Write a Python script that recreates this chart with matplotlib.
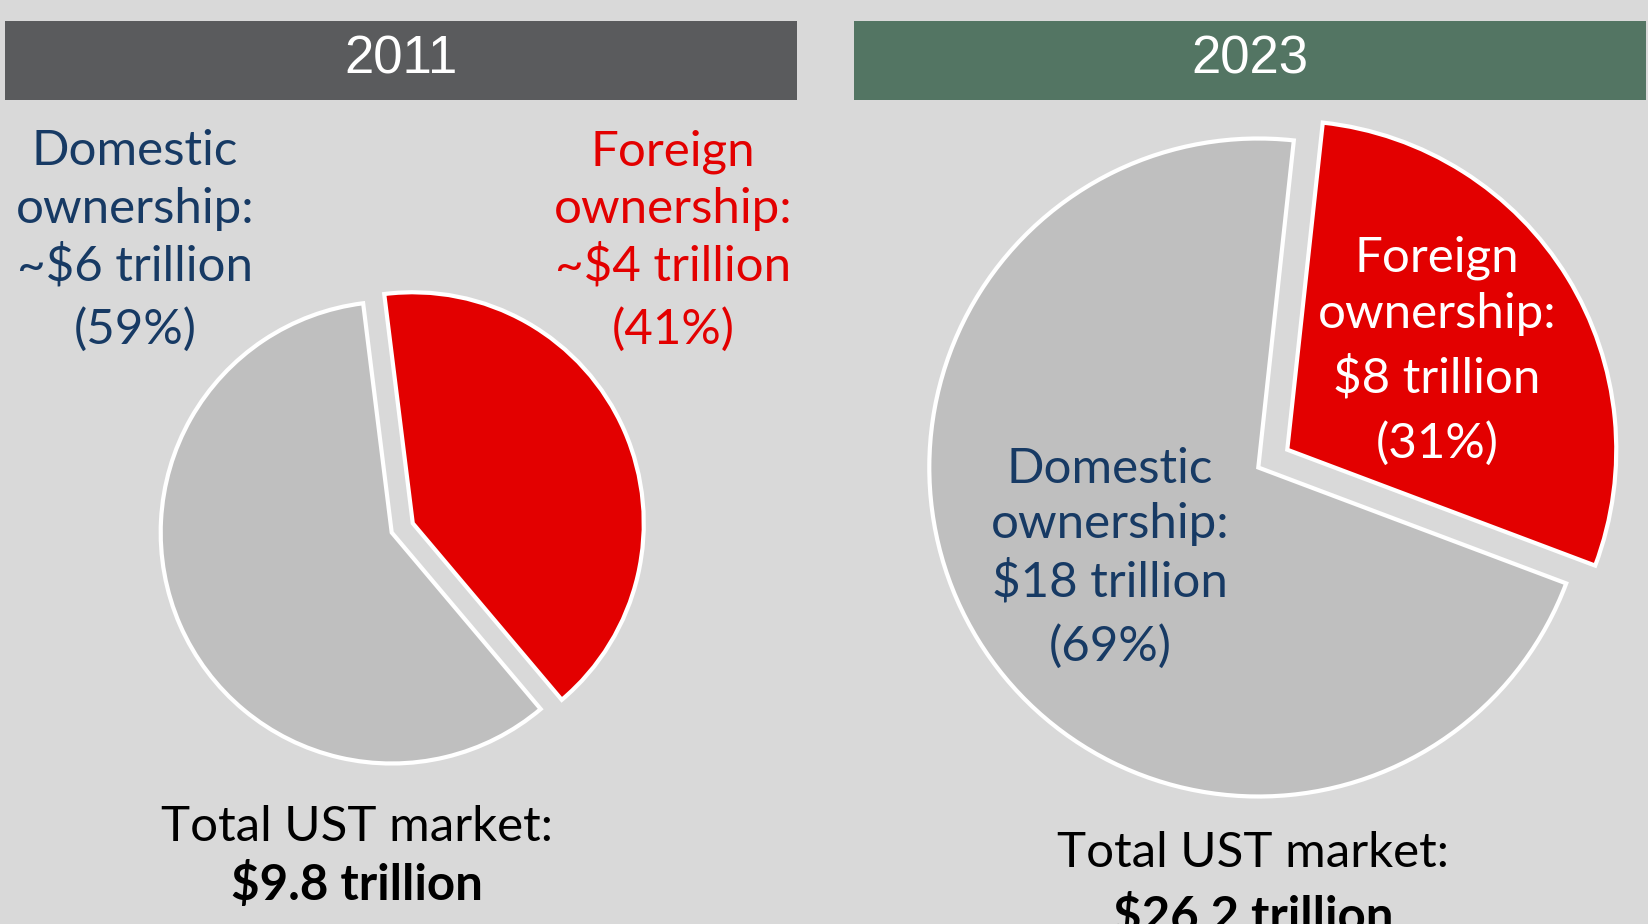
import matplotlib
matplotlib.use('Agg')
import matplotlib.pyplot as plt
from matplotlib.patches import Rectangle

W, H = 1649, 924

years = ['2011', '2023']
foreign_tn = [4.0, 7.6]      # slice sizes
domestic_tn = [5.8, 18.6]
totals = ['$9.8 trillion', '$26.2 trillion']
foreign_lines = [['Foreign', 'ownership:', '~$4 trillion', '(41%)'],
                 ['Foreign', 'ownership:', '$8 trillion', '(31%)']]
domestic_lines = [['Domestic', 'ownership:', '~$6 trillion', '(59%)'],
                  ['Domestic', 'ownership:', '$18 trillion', '(69%)']]

bg = '#d9d9d9'
red = '#e30000'
grey = '#bfbfbf'
navy = '#173a64'
head_cols = ['#5a5b5d', '#537563']

fig = plt.figure(figsize=(W / 100, H / 100), dpi=100, facecolor=bg)
ax = fig.add_axes([0, 0, 1, 1])
ax.set_facecolor(bg)

def fy(y):
    return H - y

body = ['Lato', 'DejaVu Sans']
head = ['Liberation Sans Narrow', 'Liberation Sans', 'DejaVu Sans']

# header bars
heads = [(5, 797), (854, 1646)]
for (x0, x1), yr, c in zip(heads, years, head_cols):
    ax.add_patch(Rectangle((x0, fy(100)), x1 - x0, 79, facecolor=c, edgecolor='none'))
    ax.text((x0 + x1) / 2, fy(60), yr, color='white', fontsize=38, family=head,
            ha='center', va='center')

# pies: center = grey apex, explode in data units
centers = [(391.7, fy(532.5)), (1258.3, fy(467.5))]
radii = [231, 329]
starts = [97.1, 83.8]
explodes = [23, 34]
for i in range(2):
    ax.pie([foreign_tn[i], domestic_tn[i]], colors=[red, grey],
           startangle=starts[i], counterclock=False,
           explode=[explodes[i], 0], center=centers[i], radius=radii[i],
           wedgeprops=dict(edgecolor='white', linewidth=3))

fs = 35.5
# 2011 labels
for txt, y in zip(domestic_lines[0], [165, 223, 281, 344]):
    ax.text(135, fy(y), txt, color=navy, fontsize=fs, family=body, ha='center', va='baseline')
for txt, y in zip(foreign_lines[0], [165, 223, 281, 344]):
    ax.text(673, fy(y), txt, color=red, fontsize=fs, family=body, ha='center', va='baseline')
# 2023 labels
for txt, y in zip(foreign_lines[1], [271, 328, 393, 458]):
    ax.text(1437, fy(y), txt, color='white', fontsize=fs, family=body, ha='center', va='baseline')
for txt, y in zip(domestic_lines[1], [483, 538, 597, 661]):
    ax.text(1110, fy(y), txt, color=navy, fontsize=fs, family=body, ha='center', va='baseline')

# totals
for x, y1, y2, t in [(357, 841, 900, totals[0]), (1253, 867, 932, totals[1])]:
    ax.text(x, fy(y1), 'Total UST market:', color='black', fontsize=fs, family=body,
            ha='center', va='baseline')
    ax.text(x, fy(y2), t, color='black', fontsize=fs, family=body, fontweight='bold',
            ha='center', va='baseline')

ax.set_xlim(0, W)
ax.set_ylim(0, H)
ax.set_aspect('auto')
ax.axis('off')
fig.savefig('out.png', dpi=100, facecolor=bg)
